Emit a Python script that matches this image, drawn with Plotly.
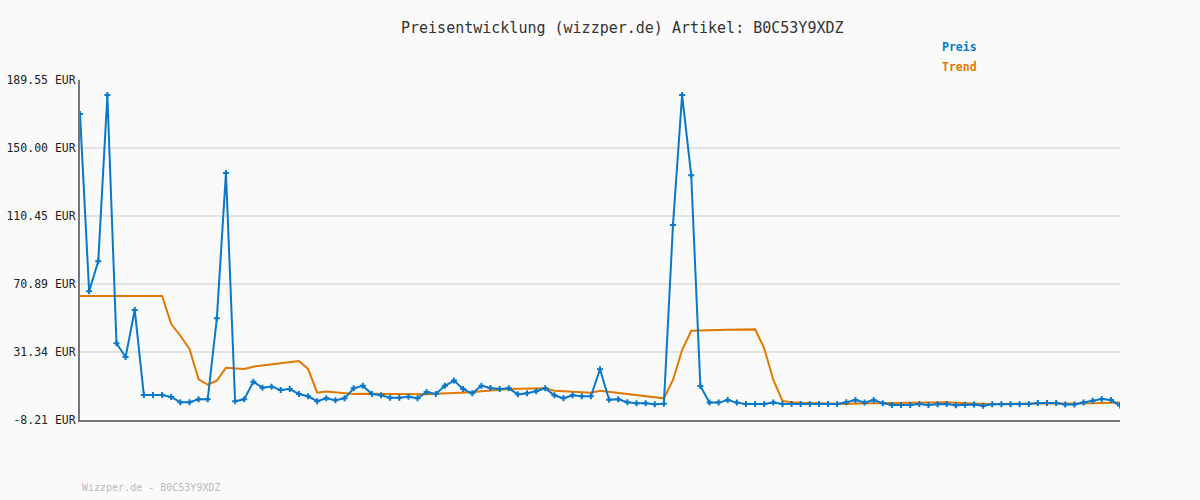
import plotly.graph_objects as go

# ---- data ----
preis = [
    169.8, 66.7, 84.1, 180.8, 36.4, 28.4, 55.8, 6.3, 6.3, 6.3,
    5.2, 2.1, 2.1, 3.8, 3.8, 50.9, 135.5, 2.7, 3.8, 14.1,
    10.6, 11.2, 9.2, 9.8, 6.9, 5.6, 2.7, 4.4, 3.3, 4.4,
    10.2, 11.7, 6.9, 6.2, 4.8, 4.8, 5.3, 4.4, 8.1, 6.9,
    11.7, 14.7, 9.8, 7.3, 11.7, 10.4, 9.8, 10.2, 6.7, 7.3,
    8.5, 10.2, 6.2, 4.4, 6.2, 5.6, 5.6, 21.3, 3.6, 3.8,
    2.1, 1.5, 1.5, 0.9, 1.3, 105.2, 180.8, 134.1, 11.6, 1.9,
    1.9, 3.4, 1.9, 1.1, 1.1, 1.1, 1.9, 1.1, 1.1, 1.1,
    1.1, 1.1, 1.1, 1.1, 2.1, 3.4, 2.0, 3.4, 1.6, 0.5,
    0.5, 0.5, 1.1, 0.5, 1.0, 1.1, 0.4, 0.7, 0.8, 0.1,
    1.0, 1.0, 1.0, 1.0, 1.1, 1.7, 1.7, 1.7, 0.8, 0.8,
    2.0, 3.0, 4.0, 3.4, 0.2,
]
trend = [
    63.9, 63.9, 63.9, 63.9, 63.9, 63.9, 63.9, 63.9, 63.9, 63.9,
    47.6, 40.8, 33.1, 15.5, 12.3, 14.7, 22.2, 21.8, 21.5, 22.8,
    23.5, 24.2, 24.8, 25.5, 26.1, 21.5, 7.7, 8.3, 7.8, 7.3,
    6.9, 7.0, 6.9, 6.8, 6.7, 6.7, 6.7, 6.7, 6.7, 7.0,
    7.2, 7.4, 7.6, 8.0, 8.5, 9.0, 9.6, 9.8, 9.9, 10.0,
    10.1, 10.2, 8.8, 8.6, 8.3, 8.0, 7.7, 8.8, 8.2, 7.6,
    7.0, 6.4, 5.8, 5.3, 4.4, 15.1, 32.5, 43.7, 44.0, 44.1,
    44.2, 44.3, 44.4, 44.5, 44.5, 33.5, 15.1, 2.9, 2.1, 1.8,
    1.6, 1.4, 1.2, 1.1, 1.1, 1.4, 1.5, 1.6, 1.7, 1.8,
    1.9, 2.0, 2.1, 2.1, 2.2, 2.1, 1.8, 1.5, 1.3, 1.1,
    1.1, 1.1, 1.1, 1.1, 1.1, 1.1, 1.1, 1.1, 1.1, 1.1,
    1.3, 1.5, 1.7, 1.9, 1.9,
]
tick_vals = [189.55, 150.00, 110.45, 70.89, 31.34, -8.21]
tick_text = ["189.55 EUR", "150.00 EUR", "110.45 EUR", "70.89 EUR", "31.34 EUR", "-8.21 EUR"]
x_idx = list(range(len(preis)))

BLUE = "#0a78c6"
ORANGE = "#e07800"
MONO = "DejaVu Sans Mono"

fig = go.Figure()
fig.add_trace(go.Scatter(
    x=x_idx, y=trend, mode="lines", name="Trend",
    line=dict(color=ORANGE, width=2), hoverinfo="skip",
))
fig.add_trace(go.Scatter(
    x=x_idx, y=preis, mode="lines+markers", name="Preis",
    line=dict(color=BLUE, width=2),
    marker=dict(symbol="cross", size=5, color=BLUE),
))

fig.update_layout(
    width=1200, height=500,
    margin=dict(l=80, r=80, t=80, b=80, autoexpand=False),
    paper_bgcolor="#fafafa", plot_bgcolor="#fafafa",
    showlegend=False,
    font=dict(family=MONO, color="#333333"),
    xaxis=dict(
        range=[0, len(preis) - 1], showgrid=False, zeroline=False,
        showticklabels=False, ticks="", automargin=False,
        showline=True, linecolor="#777777", linewidth=2,
    ),
    yaxis=dict(
        range=[tick_vals[-1], tick_vals[0]],
        tickvals=tick_vals, ticktext=tick_text, automargin=False,
        showgrid=True, gridcolor="#e3e3e3", gridwidth=2,
        zeroline=False, showline=True, linecolor="#777777", linewidth=2,
        tickfont=dict(family=MONO, size=11.5, color="#222222"),
        ticks="", ticklabelstandoff=0,
    ),
    annotations=[
        dict(text="Preisentwicklung (wizzper.de) Artikel: B0C53Y9XDZ",
             xref="paper", yref="paper", x=0.522, y=(420 - 28) / 340,
             xanchor="center", yanchor="middle", showarrow=False,
             font=dict(family=MONO, size=15, color="#333333")),
        dict(text="<b>Preis</b>", xref="paper", yref="paper",
             x=(940 - 80) / 1040, y=(420 - 47) / 340,
             xanchor="left", yanchor="middle", showarrow=False,
             font=dict(family=MONO, size=11.5, color=BLUE)),
        dict(text="<b>Trend</b>", xref="paper", yref="paper",
             x=(940 - 80) / 1040, y=(420 - 67) / 340,
             xanchor="left", yanchor="middle", showarrow=False,
             font=dict(family=MONO, size=11.5, color=ORANGE)),
        dict(text="Wizzper.de - B0C53Y9XDZ", xref="paper", yref="paper",
             x=0, y=(420 - 487) / 340,
             xanchor="left", yanchor="middle", showarrow=False,
             font=dict(family=MONO, size=10, color="#bbbbbb")),
    ],
)

fig.write_html("out.html", config={"displayModeBar": False},
               post_script="document.body.style.margin='0';")
